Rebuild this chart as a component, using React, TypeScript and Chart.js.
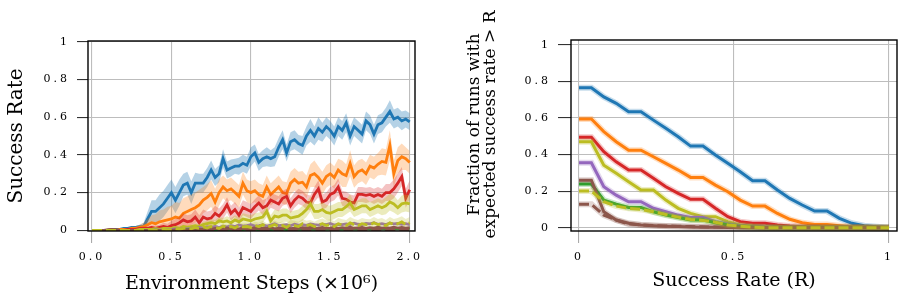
import React, { useEffect, useRef } from 'react';
import { Chart, registerables } from 'chart.js';

Chart.register(...registerables);

// ---------- Left panel: learning curves ----------
const steps = [
  0, 0.025, 0.05, 0.075, 0.1, 0.125, 0.15, 0.175, 0.2, 0.225,
  0.25, 0.275, 0.3, 0.325, 0.35, 0.375, 0.4, 0.425, 0.45, 0.475,
  0.5, 0.525, 0.55, 0.575, 0.6, 0.625, 0.65, 0.675, 0.7, 0.725,
  0.75, 0.775, 0.8, 0.825, 0.85, 0.875, 0.9, 0.925, 0.95, 0.975,
  1.0, 1.025, 1.05, 1.075, 1.1, 1.125, 1.15, 1.175, 1.2, 1.225,
  1.25, 1.275, 1.3, 1.325, 1.35, 1.375, 1.4, 1.425, 1.45, 1.475,
  1.5, 1.525, 1.55, 1.575, 1.6, 1.625, 1.65, 1.675, 1.7, 1.725,
  1.75, 1.775, 1.8, 1.825, 1.85, 1.875, 1.9, 1.925, 1.95, 1.975, 2.0,
];

const blueMean = [
  0, 0, 0, 0, 0, 0, 0.005, 0.005, 0.01, 0.01, 0.015, 0.015, 0.02,
  0.02, 0.06, 0.1, 0.1, 0.12, 0.14, 0.17,
  0.2, 0.16, 0.2, 0.24, 0.25, 0.2, 0.25, 0.25, 0.25, 0.28, 0.32, 0.28, 0.3, 0.38, 0.32, 0.33, 0.34, 0.34, 0.355, 0.345,
  0.39, 0.41, 0.36, 0.38, 0.39, 0.38, 0.39, 0.44, 0.48, 0.41, 0.47, 0.48, 0.46, 0.45, 0.5, 0.53, 0.5, 0.54, 0.52, 0.55,
  0.53, 0.5, 0.55, 0.53, 0.57, 0.5, 0.55, 0.53, 0.51, 0.58, 0.56, 0.51, 0.56, 0.57, 0.6, 0.63, 0.59, 0.6, 0.58, 0.59, 0.575,
];
const blueBand = [
  0, 0, 0, 0, 0, 0, 0.003, 0.003, 0.005, 0.005, 0.007, 0.008, 0.01,
  0.02, 0.04, 0.06, 0.06, 0.07, 0.07, 0.07,
  0.07, 0.07, 0.07, 0.06, 0.06, 0.06, 0.055, 0.05, 0.05, 0.05, 0.05, 0.045, 0.045, 0.05, 0.045, 0.045, 0.04, 0.045, 0.045, 0.045,
  0.05, 0.045, 0.045, 0.045, 0.05, 0.045, 0.05, 0.05, 0.05, 0.045, 0.05, 0.05, 0.045, 0.05, 0.05, 0.06, 0.05, 0.06, 0.05, 0.05,
  0.05, 0.05, 0.05, 0.05, 0.05, 0.05, 0.05, 0.05, 0.05, 0.05, 0.05, 0.05, 0.05, 0.05, 0.05, 0.06, 0.05, 0.05, 0.05, 0.045, 0.045,
];

const orangeMean = [
  0, 0, 0, 0, 0, 0, 0, 0.005, 0.005, 0.005, 0.01, 0.01,
  0.015, 0.02, 0.03, 0.04, 0.035, 0.045, 0.05, 0.055,
  0.06, 0.07, 0.065, 0.09, 0.1, 0.11, 0.12, 0.135, 0.16, 0.175, 0.195, 0.15, 0.2, 0.23, 0.21, 0.22, 0.2, 0.18, 0.25, 0.21,
  0.2, 0.21, 0.19, 0.18, 0.23, 0.19, 0.21, 0.23, 0.2, 0.195, 0.25, 0.27, 0.25, 0.255, 0.23, 0.29, 0.3, 0.28, 0.25, 0.285,
  0.3, 0.28, 0.32, 0.3, 0.29, 0.355, 0.285, 0.31, 0.32, 0.3, 0.34, 0.33, 0.35, 0.365, 0.36, 0.45, 0.3, 0.37, 0.39, 0.38, 0.36,
];
const orangeBand = [
  0, 0, 0, 0, 0, 0, 0, 0.005, 0.005, 0.005, 0.01, 0.01,
  0.015, 0.02, 0.03, 0.04, 0.05, 0.06, 0.06, 0.07,
  0.07, 0.08, 0.08, 0.08, 0.08, 0.08, 0.08, 0.08, 0.07, 0.07, 0.07, 0.07, 0.07, 0.06, 0.06, 0.06, 0.06, 0.06, 0.06, 0.06,
  0.06, 0.06, 0.06, 0.06, 0.06, 0.06, 0.06, 0.06, 0.06, 0.06, 0.06, 0.06, 0.06, 0.06, 0.06, 0.06, 0.07, 0.06, 0.06, 0.06,
  0.06, 0.06, 0.06, 0.07, 0.06, 0.07, 0.06, 0.06, 0.06, 0.06, 0.06, 0.06, 0.06, 0.07, 0.07, 0.08, 0.07, 0.07, 0.07, 0.06, 0.06,
];

const redMean = [
  0, 0, 0, 0, 0, 0.005, 0, 0, 0, 0.005, 0.005, 0.005, 0.01, 0.01,
  0.01, 0.015, 0.01, 0.015, 0.02, 0.015,
  0.025, 0.03, 0.04, 0.055, 0.045, 0.05, 0.07, 0.04, 0.07, 0.06, 0.065, 0.09, 0.075, 0.1, 0.135, 0.09, 0.11, 0.08, 0.12, 0.11,
  0.1, 0.125, 0.145, 0.12, 0.13, 0.16, 0.15, 0.14, 0.17, 0.18, 0.13, 0.16, 0.18, 0.17, 0.15, 0.145, 0.19, 0.22, 0.15, 0.16,
  0.19, 0.2, 0.23, 0.17, 0.165, 0.15, 0.145, 0.19, 0.19, 0.185, 0.19, 0.18, 0.19, 0.18, 0.2, 0.2, 0.22, 0.25, 0.285, 0.17, 0.215,
];
const redBand = [
  0, 0, 0, 0, 0, 0.003, 0, 0, 0, 0.003, 0.005, 0.005, 0.008, 0.01, 0.01, 0.012, 0.015, 0.015, 0.02, 0.02,
  0.025, 0.03, 0.03, 0.035, 0.035, 0.035, 0.04, 0.04, 0.04, 0.04, 0.04, 0.04, 0.04, 0.04, 0.04, 0.04, 0.04, 0.04, 0.04, 0.04,
  0.04, 0.04, 0.04, 0.04, 0.04, 0.04, 0.04, 0.04, 0.04, 0.04, 0.04, 0.04, 0.04, 0.04, 0.04, 0.04, 0.04, 0.045, 0.04, 0.04,
  0.04, 0.04, 0.045, 0.04, 0.04, 0.04, 0.04, 0.04, 0.04, 0.04, 0.04, 0.04, 0.04, 0.04, 0.045, 0.045, 0.05, 0.05, 0.05, 0.05, 0.05,
];

const oliveMean = [
  0, 0, 0, 0, 0, 0, 0, 0, 0, 0, 0, 0, 0.005, 0.005, 0.005, 0.005, 0.01, 0.005, 0.01, 0.01,
  0.01, 0.015, 0.01, 0.02, 0.015, 0.02, 0.025, 0.02, 0.03, 0.035, 0.04, 0.035, 0.05, 0.045, 0.05, 0.04, 0.055, 0.045, 0.06, 0.055,
  0.05, 0.06, 0.065, 0.07, 0.1, 0.05, 0.075, 0.07, 0.08, 0.08, 0.065, 0.07, 0.075, 0.09, 0.11, 0.14, 0.1, 0.1, 0.11, 0.095,
  0.09, 0.1, 0.11, 0.11, 0.125, 0.145, 0.11, 0.12, 0.13, 0.13, 0.11, 0.12, 0.13, 0.12, 0.13, 0.15, 0.14, 0.12, 0.14, 0.145, 0.14,
];
const oliveBand = [
  0, 0, 0, 0, 0, 0, 0, 0, 0, 0, 0, 0, 0.003, 0.003, 0.003, 0.003, 0.005, 0.005, 0.005, 0.005,
  0.008, 0.008, 0.01, 0.01, 0.01, 0.012, 0.012, 0.015, 0.015, 0.015, 0.02, 0.02, 0.02, 0.02, 0.025, 0.025, 0.025, 0.025, 0.03, 0.03,
  0.03, 0.03, 0.03, 0.03, 0.03, 0.03, 0.035, 0.035, 0.035, 0.035, 0.035, 0.035, 0.035, 0.04, 0.04, 0.04, 0.04, 0.04, 0.04, 0.04,
  0.04, 0.04, 0.04, 0.04, 0.04, 0.045, 0.04, 0.04, 0.04, 0.04, 0.04, 0.04, 0.04, 0.04, 0.045, 0.045, 0.045, 0.04, 0.045, 0.045, 0.045,
];

const oliveDashMean = [
  0, 0, 0, 0, 0, 0, 0, 0, 0, 0, 0, 0, 0, 0, 0, 0.005, 0, 0.005, 0.005, 0.003,
  0.005, 0.008, 0.005, 0.01, 0.012, 0.008, 0.015, 0.01, 0.018, 0.012, 0.02, 0.015, 0.01, 0.022, 0.015, 0.02, 0.012, 0.025, 0.018, 0.02,
  0.015, 0.025, 0.02, 0.03, 0.018, 0.022, 0.03, 0.02, 0.025, 0.015, 0.03, 0.025, 0.02, 0.035, 0.025, 0.03, 0.02, 0.028, 0.035, 0.025,
  0.03, 0.02, 0.035, 0.028, 0.025, 0.04, 0.03, 0.025, 0.035, 0.03, 0.028, 0.04, 0.03, 0.035, 0.025, 0.04, 0.03, 0.035, 0.045, 0.03, 0.04,
];
const oliveDashBand = [
  0, 0, 0, 0, 0, 0, 0, 0, 0, 0, 0, 0, 0, 0, 0, 0.003, 0.003, 0.003, 0.003, 0.003,
  0.005, 0.005, 0.005, 0.008, 0.008, 0.008, 0.01, 0.01, 0.01, 0.012, 0.012, 0.012, 0.012, 0.015, 0.015, 0.015, 0.015, 0.015, 0.018, 0.018,
  0.018, 0.02, 0.02, 0.02, 0.02, 0.022, 0.022, 0.022, 0.022, 0.022, 0.025, 0.025, 0.025, 0.025, 0.025, 0.025, 0.025, 0.028, 0.028, 0.028,
  0.028, 0.028, 0.03, 0.03, 0.03, 0.03, 0.03, 0.03, 0.03, 0.03, 0.03, 0.03, 0.03, 0.03, 0.03, 0.03, 0.03, 0.03, 0.03, 0.03, 0.03,
];

const purpleMean = [
  0, 0, 0, 0, 0, 0, 0, 0, 0, 0, 0, 0, 0, 0, 0, 0, 0.003, 0, 0.003, 0.005,
  0.005, 0.008, 0.005, 0.01, 0.008, 0.012, 0.01, 0.015, 0.012, 0.018, 0.015, 0.02, 0.016, 0.022, 0.018, 0.025, 0.02, 0.028, 0.022, 0.025,
  0.03, 0.022, 0.025, 0.03, 0.022, 0.028, 0.035, 0.025, 0.028, 0.03, 0.024, 0.032, 0.028, 0.03, 0.026, 0.034, 0.03, 0.028, 0.033, 0.03,
  0.036, 0.028, 0.032, 0.03, 0.034, 0.03, 0.038, 0.032, 0.03, 0.036, 0.034, 0.04, 0.032, 0.035, 0.03, 0.038, 0.034, 0.036, 0.032, 0.035, 0.03,
];

const brownMean = [
  0, 0, 0, 0, 0.003, 0.005, 0.003, 0, 0, 0, 0, 0, 0, 0, 0, 0, 0, 0, 0, 0,
  0, 0.002, 0, 0.003, 0.002, 0.004, 0.003, 0.006, 0.004, 0.008, 0.005, 0.01, 0.006, 0.008, 0.012, 0.006, 0.01, 0.008, 0.012, 0.007,
  0.01, 0.013, 0.008, 0.012, 0.01, 0.014, 0.008, 0.012, 0.01, 0.015, 0.009, 0.012, 0.01, 0.014, 0.011, 0.016, 0.01, 0.012, 0.015, 0.01,
  0.012, 0.016, 0.01, 0.014, 0.012, 0.017, 0.011, 0.013, 0.015, 0.01, 0.014, 0.012, 0.016, 0.011, 0.014, 0.012, 0.017, 0.012, 0.015, 0.012, 0.014,
];

const greenMean = [
  0, 0, 0, 0, 0, 0, 0, 0, 0, 0, 0, 0, 0, 0, 0, 0, 0, 0, 0, 0,
  0, 0, 0.002, 0, 0.003, 0.002, 0.004, 0.002, 0.005, 0.003, 0.004, 0.002, 0.005, 0.003, 0.004, 0.006, 0.003, 0.005, 0.004, 0.006,
  0.004, 0.006, 0.003, 0.005, 0.007, 0.004, 0.006, 0.005, 0.008, 0.004, 0.006, 0.005, 0.007, 0.005, 0.008, 0.006, 0.005, 0.007, 0.006, 0.008,
  0.006, 0.008, 0.005, 0.007, 0.006, 0.009, 0.006, 0.008, 0.007, 0.01, 0.006, 0.008, 0.007, 0.009, 0.007, 0.01, 0.008, 0.009, 0.007, 0.01, 0.008,
];

const brownDashMean = [
  0, 0, 0, 0, 0, 0, 0, 0, 0, 0, 0, 0, 0, 0, 0, 0, 0, 0, 0, 0, 0, 0, 0, 0, 0, 0, 0, 0, 0, 0,
  0.002, 0, 0.003, 0.001, 0.002, 0, 0.003, 0.002, 0.001, 0.003,
  0.002, 0.004, 0.001, 0.003, 0.002, 0.004, 0.002, 0.003, 0.001, 0.004,
  0.003, 0.002, 0.004, 0.002, 0.003, 0.005, 0.002, 0.004, 0.003, 0.002,
  0.004, 0.003, 0.005, 0.002, 0.004, 0.003, 0.005, 0.003, 0.004, 0.002, 0.005,
  0.003, 0.004, 0.005, 0.003, 0.004, 0.002, 0.005, 0.004, 0.003, 0.004,
];

// ---------- Right panel: performance profiles ----------
const rateGrid = [
  0, 0.04, 0.08, 0.12, 0.16, 0.2, 0.24, 0.28, 0.32, 0.36, 0.4, 0.44, 0.48,
  0.52, 0.56, 0.6, 0.64, 0.68, 0.72, 0.76, 0.8, 0.84, 0.88, 0.92, 0.96, 1.0,
];
const blueFrac = [0.765, 0.765, 0.715, 0.68, 0.634, 0.634, 0.588, 0.543, 0.497, 0.446, 0.446, 0.397, 0.352, 0.306, 0.257, 0.257, 0.206, 0.16, 0.124, 0.091, 0.091, 0.051, 0.024, 0.011, 0.005, 0];
const orangeFrac = [0.594, 0.594, 0.525, 0.47, 0.424, 0.424, 0.388, 0.352, 0.315, 0.275, 0.275, 0.233, 0.197, 0.151, 0.118, 0.118, 0.078, 0.046, 0.027, 0.018, 0.018, 0.011, 0.005, 0.002, 0, 0];
const redFrac = [0.494, 0.494, 0.415, 0.36, 0.315, 0.315, 0.27, 0.224, 0.188, 0.155, 0.155, 0.106, 0.06, 0.033, 0.024, 0.024, 0.015, 0.009, 0.005, 0.002, 0, 0, 0, 0, 0, 0];
const oliveFrac = [0.47, 0.47, 0.342, 0.297, 0.251, 0.206, 0.206, 0.151, 0.106, 0.078, 0.06, 0.06, 0.033, 0.015, 0.008, 0.004, 0.002, 0, 0, 0, 0, 0, 0, 0, 0, 0];
const purpleFrac = [0.355, 0.355, 0.224, 0.178, 0.142, 0.142, 0.106, 0.087, 0.069, 0.056, 0.056, 0.033, 0.02, 0.011, 0.005, 0.002, 0, 0, 0, 0, 0, 0, 0, 0, 0, 0];
const brownFrac = [0.26, 0.26, 0.087, 0.042, 0.024, 0.015, 0.011, 0.008, 0.006, 0.004, 0.003, 0.002, 0.001, 0, 0, 0, 0, 0, 0, 0, 0, 0, 0, 0, 0, 0];
const greenFrac = [0.239, 0.239, 0.151, 0.129, 0.111, 0.111, 0.087, 0.069, 0.056, 0.042, 0.042, 0.027, 0.015, 0.005, 0.002, 0, 0, 0, 0, 0, 0, 0, 0, 0, 0, 0];
const oliveDashFrac = [0.2, 0.2, 0.142, 0.118, 0.106, 0.1, 0.087, 0.072, 0.058, 0.045, 0.04, 0.03, 0.015, 0.008, 0.003, 0, 0, 0, 0, 0, 0, 0, 0, 0, 0, 0];
const brownDashFrac = [0.128, 0.128, 0.069, 0.042, 0.02, 0.015, 0.012, 0.01, 0.008, 0.006, 0.005, 0.004, 0.003, 0.002, 0.001, 0, 0, 0, 0, 0, 0, 0, 0, 0, 0, 0];

const leftXTicks = ['0.0', '0.5', '1.0', '1.5', '2.0'];

const C = {
  blue: '#1f77b4',
  orange: '#ff7f0e',
  green: '#2ca02c',
  red: '#d62728',
  purple: '#9467bd',
  brown: '#8c564b',
  olive: '#bcbd22',
};
const HALO = {
  blue: 'rgba(31,119,180,0.25)',
  orange: 'rgba(255,127,14,0.25)',
  green: 'rgba(44,160,44,0.25)',
  red: 'rgba(214,39,40,0.25)',
  purple: 'rgba(148,103,189,0.25)',
  brown: 'rgba(140,86,75,0.25)',
  olive: 'rgba(188,189,34,0.25)',
};

const FONT = 'DejaVu Serif';
const DASH = [10, 4];

function pts(xs: number[], ys: number[]) {
  return xs.map((x, i) => ({ x, y: ys[i] }));
}

function line(xs: number[], ys: number[], color: string, width: number, dash: number[] = []) {
  return {
    data: pts(xs, ys),
    borderColor: color,
    borderWidth: width,
    borderDash: dash,
    pointRadius: 0,
    fill: false,
    tension: 0,
  };
}

function band(xs: number[], mean: number[], hw: number[], rgba: string) {
  const hi = mean.map((m, i) => m + hw[i]);
  const lo = mean.map((m, i) => m - hw[i]);
  return [
    { data: pts(xs, hi), borderColor: 'rgba(0,0,0,0)', borderWidth: 0, pointRadius: 0, fill: false, tension: 0 },
    { data: pts(xs, lo), borderColor: 'rgba(0,0,0,0)', borderWidth: 0, pointRadius: 0, fill: '-1', backgroundColor: rgba, tension: 0 },
  ];
}

function haloLine(xs: number[], ys: number[], key: keyof typeof C, dash: number[] = []) {
  return [line(xs, ys, HALO[key], 6), line(xs, ys, C[key], 3, dash)];
}

function ordered(list: any[]) {
  return list.map((d, i) => ({ ...d, order: list.length - i }));
}

const framePlugin = {
  id: 'frameAndSpacing',
  beforeDraw(chart: any) {
    chart.ctx.letterSpacing = '0px';
  },
  afterDatasetsDraw(chart: any) {
    const { ctx, chartArea } = chart;
    ctx.save();
    ctx.strokeStyle = '#000';
    ctx.lineWidth = 1.4;
    ctx.strokeRect(chartArea.left, chartArea.top, chartArea.right - chartArea.left, chartArea.bottom - chartArea.top);
    ctx.restore();
    ctx.letterSpacing = '3px';
  },
  afterDraw(chart: any) {
    chart.ctx.letterSpacing = '0px';
  },
};

// lifts only the two-line y title of the right panel while it is drawn
const TITLE_LIFT = 11;
const titleShiftPlugin = {
  id: 'titleShift',
  beforeDraw(chart: any) {
    const s = chart.scales.y;
    s.top -= TITLE_LIFT;
    s.bottom -= TITLE_LIFT;
  },
  beforeDatasetsDraw(chart: any) {
    const s = chart.scales.y;
    s.top += TITLE_LIFT;
    s.bottom += TITLE_LIFT;
  },
};

const fmt = (v: any) => String(Number(Number(v).toFixed(2)));

const tickFont = { family: FONT, size: 11 };
const titleFont = { family: FONT, size: 19 };
const GRID = '#bdbdbd';

function LeftChart() {
  const ref = useRef<HTMLCanvasElement>(null);
  useEffect(() => {
    const datasets = ordered([
      ...band(steps, blueMean, blueBand, 'rgba(31,119,180,0.33)'),
      line(steps, blueMean, C.blue, 2.8),
      ...band(steps, orangeMean, orangeBand, 'rgba(255,127,14,0.28)'),
      line(steps, orangeMean, C.orange, 2.8),
      ...band(steps, redMean, redBand, 'rgba(214,39,40,0.28)'),
      line(steps, redMean, C.red, 2.8),
      ...band(steps, oliveMean, oliveBand, 'rgba(188,189,34,0.3)'),
      line(steps, oliveMean, C.olive, 2.8),
      line(steps, purpleMean, C.purple, 2.8),
      ...band(steps, oliveDashMean, oliveDashBand, 'rgba(188,189,34,0.25)'),
      line(steps, greenMean, C.green, 2.8),
      line(steps, brownDashMean, C.brown, 2.8, DASH),
      line(steps, brownMean, C.brown, 2.8),
      line(steps, oliveDashMean, C.olive, 2.8, DASH),
    ]);
    const chart = new Chart(ref.current!, {
      type: 'line',
      data: { datasets },
      plugins: [framePlugin],
      options: {
        animation: false,
        responsive: false,
        events: [],
        layout: { padding: { left: 0, right: 25, top: 41, bottom: 0 } },
        plugins: { legend: { display: false }, tooltip: { enabled: false } },
        scales: {
          x: {
            type: 'linear',
            min: -0.0252,
            max: 2.0333,
            afterFit: (s: any) => { s.height = 73; },
            border: { display: false },
            grid: { color: GRID, lineWidth: 1.1, tickLength: 12, tickColor: '#aaaaaa', tickWidth: 1.1 },
            ticks: {
              stepSize: 0.5,
              includeBounds: false,
              maxRotation: 0,
              autoSkip: false,
              padding: 7.8,
              color: '#000',
              font: tickFont,
              z: 1,
              callback: (v: any) => leftXTicks[Math.round(Number(v) / 0.5)] ?? '',
            },
            title: {
              display: true,
              text: 'Environment Steps (×10⁶)',
              color: '#000',
              font: titleFont,
              padding: { top: 0, bottom: 8.4 },
            },
          },
          y: {
            type: 'linear',
            min: -0.0037,
            max: 1.0037,
            afterFit: (s: any) => { s.width = 88; },
            border: { display: false },
            grid: { color: GRID, lineWidth: 1.1, tickLength: 11, tickColor: '#333333', tickWidth: 1.1 },
            ticks: {
              stepSize: 0.2,
              includeBounds: false,
              padding: 7,
              color: '#000',
              font: tickFont,
              z: 1,
              callback: fmt,
            },
            title: {
              display: true,
              text: 'Success Rate',
              color: '#000',
              font: { family: FONT, size: 20 },
              padding: { top: 4.5, bottom: 0 },
            },
          },
        },
      } as any,
    });
    return () => chart.destroy();
  }, []);
  return (
    <canvas
      ref={ref}
      width={440}
      height={304}
      style={{ position: 'absolute', left: 0, top: 0, width: 440, height: 304 }}
    />
  );
}

function RightChart() {
  const ref = useRef<HTMLCanvasElement>(null);
  useEffect(() => {
    const datasets = ordered([
      ...haloLine(rateGrid, blueFrac, 'blue'),
      ...haloLine(rateGrid, orangeFrac, 'orange'),
      ...haloLine(rateGrid, redFrac, 'red'),
      ...haloLine(rateGrid, oliveFrac, 'olive'),
      ...haloLine(rateGrid, purpleFrac, 'purple'),
      ...haloLine(rateGrid, greenFrac, 'green'),
      ...haloLine(rateGrid, brownDashFrac, 'brown', DASH),
      ...haloLine(rateGrid, brownFrac, 'brown'),
      ...haloLine(rateGrid, oliveDashFrac, 'olive', DASH),
    ]);
    const chart = new Chart(ref.current!, {
      type: 'line',
      data: { datasets },
      plugins: [framePlugin, titleShiftPlugin],
      options: {
        animation: false,
        responsive: false,
        events: [],
        layout: { padding: { left: 0, right: 6, top: 40, bottom: 0 } },
        plugins: { legend: { display: false }, tooltip: { enabled: false } },
        scales: {
          x: {
            type: 'linear',
            min: -0.0258,
            max: 1.0258,
            afterFit: (s: any) => { s.height = 73; },
            border: { display: false },
            grid: { color: GRID, lineWidth: 1.1, tickLength: 12, tickColor: '#aaaaaa', tickWidth: 1.1 },
            ticks: {
              stepSize: 0.5,
              includeBounds: false,
              maxRotation: 0,
              autoSkip: false,
              padding: 7.3,
              color: '#000',
              font: tickFont,
              z: 1,
              callback: fmt,
            },
            title: {
              display: true,
              text: 'Success Rate (R)',
              color: '#000',
              font: titleFont,
              padding: { top: 0, bottom: 11.6 },
            },
          },
          y: {
            type: 'linear',
            min: -0.018,
            max: 1.026,
            afterFit: (s: any) => { s.width = 131; },
            border: { display: false },
            grid: { color: GRID, lineWidth: 1.1, tickLength: 13, tickColor: '#333333', tickWidth: 1.1 },
            ticks: {
              stepSize: 0.2,
              includeBounds: false,
              padding: 7,
              color: '#000',
              font: tickFont,
              z: 1,
              callback: fmt,
            },
            title: {
              display: true,
              text: ['Fraction of runs with', 'expected success rate > R'],
              color: '#000',
              font: { family: FONT, size: 17, lineHeight: 0.94 },
              padding: { top: 27, bottom: 0 },
            },
          },
        },
      } as any,
    });
    return () => chart.destroy();
  }, []);
  return (
    <canvas
      ref={ref}
      width={463}
      height={304}
      style={{ position: 'absolute', left: 440, top: 0, width: 463, height: 304 }}
    />
  );
}

export default function App() {
  return (
    <div style={{ position: 'absolute', left: 0, top: 0, width: 903, height: 304, background: '#fff', overflow: 'hidden' }}>
      <LeftChart />
      <RightChart />
    </div>
  );
}
